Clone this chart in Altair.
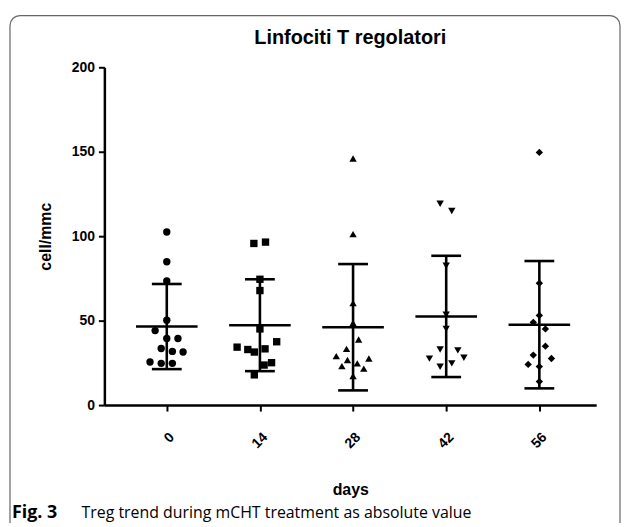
import altair as alt
import pandas as pd

days = ["0", "14", "28", "42", "56"]
shapes = ["circle", "square", "triangle-up", "triangle-down", "diamond"]

# read values (cell/mmc) and horizontal scatter offsets (in units of category spacing)
vals_0 = [102.5, 84.9, 73.5, 50.2, 44.1, 39.4, 39.4, 33.5, 31.8, 31.4, 25.5, 24.7, 24.7]
jit_0 = [0, 0, 0, 0, -0.125, 0, 0.12, -0.06, 0.06, 0.175, -0.18, -0.06, 0.06]
vals_14 = [95.7, 96.5, 74.5, 67.8, 45.1, 34.3, 32.9, 31.4, 33.3, 37.5, 23.7, 25.1, 17.9]
jit_14 = [-0.065, 0.06, 0, 0, 0, -0.245, -0.13, -0.06, 0.055, 0.18, 0.045, 0.125, -0.06]
vals_28 = [146.0, 101.2, 60.4, 48.6, 38.8, 33.3, 29.0, 26.7, 27.6, 23.1, 24.7, 21.6, 17.2]
jit_28 = [0, 0, 0, 0, 0.06, -0.07, -0.18, -0.06, 0.17, -0.12, 0.045, 0.115, 0]
vals_42 = [119.2, 114.9, 82.5, 53.5, 45.1, 32.9, 32.4, 27.5, 28.0, 24.7, 22.7]
jit_42 = [-0.065, 0.06, 0, 0, 0, -0.065, 0.125, -0.18, 0.19, 0.06, -0.065]
vals_56 = [149.6, 72.2, 53.1, 49.0, 45.1, 34.9, 29.6, 27.6, 24.1, 22.8, 13.9]
jit_56 = [0, 0, 0, -0.065, 0.065, 0.065, -0.065, 0.13, -0.12, 0, 0]

means = [46.5, 47.3, 46.1, 52.5, 47.6]
sds = [25.2, 27.2, 37.4, 35.9, 37.7]

title_text = "Linfociti T regolatori"
caption_bold = "Fig. 3"
caption_text = "Treg trend during mCHT treatment as absolute value"

all_vals = [vals_0, vals_14, vals_28, vals_42, vals_56]
all_jit = [jit_0, jit_14, jit_28, jit_42, jit_56]

rows = []
for i, (vs, js) in enumerate(zip(all_vals, all_jit)):
    for v, j in zip(vs, js):
        rows.append({"day": days[i], "pos": i + j, "value": v})
pts = pd.DataFrame(rows)

stats = pd.DataFrame({
    "day": days,
    "pos": list(range(len(days))),
    "mean": means,
    "lo": [m - s for m, s in zip(means, sds)],
    "hi": [m + s for m, s in zip(means, sds)],
})

label_expr = "[" + ",".join("'" + d + "'" for d in days) + "][datum.value]"

xscale = alt.Scale(domain=[-0.67, 4.61], nice=False, zero=False)
yscale = alt.Scale(domain=[0, 200], nice=False)

xaxis = alt.Axis(values=list(range(len(days))), labelExpr=label_expr, labelAngle=-45,
                 title="days", grid=False, domainColor="black", domainWidth=2.5,
                 tickColor="black", tickWidth=2, tickSize=6,
                 labelFont="Liberation Sans", labelFontWeight="bold", labelFontSize=14,
                 labelColor="black", labelPadding=19,
                 titleFont="Liberation Sans", titleFontWeight="bold", titleFontSize=16,
                 titleColor="black", titlePadding=31)
yaxis = alt.Axis(values=[0, 50, 100, 150, 200], title="cell/mmc", grid=False,
                 domainColor="black", domainWidth=2.5, tickColor="black", tickWidth=2,
                 tickSize=6, labelFont="Liberation Sans", labelFontWeight="bold",
                 labelFontSize=14, labelColor="black", labelPadding=4,
                 titleFont="Liberation Sans", titleFontWeight="bold", titleFontSize=16,
                 titleColor="black", titlePadding=18)

base_x = alt.X("pos:Q", scale=xscale, axis=xaxis)

points = alt.Chart(pts).mark_point(filled=True, color="black", opacity=1, size=55).encode(
    x=base_x,
    y=alt.Y("value:Q", scale=yscale, axis=yaxis),
    shape=alt.Shape("day:N", scale=alt.Scale(domain=days, range=shapes), legend=None),
)

sb = alt.Chart(stats)
rule = sb.mark_rule(color="black", strokeWidth=2.6).encode(
    x=alt.X("pos:Q", scale=xscale), y=alt.Y("lo:Q", scale=yscale), y2="hi:Q")
cap_lo = sb.mark_tick(color="black", thickness=2.6, size=30, orient="horizontal", opacity=1).encode(
    x=alt.X("pos:Q", scale=xscale), y=alt.Y("lo:Q", scale=yscale))
cap_hi = sb.mark_tick(color="black", thickness=2.6, size=30, orient="horizontal", opacity=1).encode(
    x=alt.X("pos:Q", scale=xscale), y=alt.Y("hi:Q", scale=yscale))
mean_t = sb.mark_tick(color="black", thickness=2.6, size=62, orient="horizontal", opacity=1).encode(
    x=alt.X("pos:Q", scale=xscale), y=alt.Y("mean:Q", scale=yscale))

one = alt.Data(values=[{"a": 1}])
frame = alt.Chart(one).mark_rect(fillOpacity=0, stroke="#666666", strokeWidth=1.2,
                                 cornerRadius=10).encode(
    x=alt.value(-95), x2=alt.value(519), y=alt.value(-52), y2=alt.value(480))
title = alt.Chart(one).mark_text(align="center", baseline="middle", font="Liberation Sans",
                                 fontWeight="bold", fontSize=20, color="black").encode(
    x=alt.value(247.5), y=alt.value(-29), text=alt.value(title_text))
cap_bold = alt.Chart(one).mark_text(align="left", baseline="middle", font="Open Sans",
                                    fontWeight="bold", fontSize=18, color="black").encode(
    x=alt.value(-93), y=alt.value(449), text=alt.value(caption_bold))
cap_txt = alt.Chart(one).mark_text(align="left", baseline="middle", font="Open Sans",
                                   fontSize=16, color="black").encode(
    x=alt.value(-23), y=alt.value(449), text=alt.value(caption_text))

chart = alt.layer(frame, rule, cap_lo, cap_hi, mean_t, points, title, cap_bold, cap_txt).properties(
    width=495, height=340,
    autosize=alt.AutoSizeParams(type="none"),
    padding={"left": 97, "top": 58, "right": 25, "bottom": 117},
).configure_view(stroke=None)

chart.save("out.html", embed_options={"renderer": "svg", "actions": False})
